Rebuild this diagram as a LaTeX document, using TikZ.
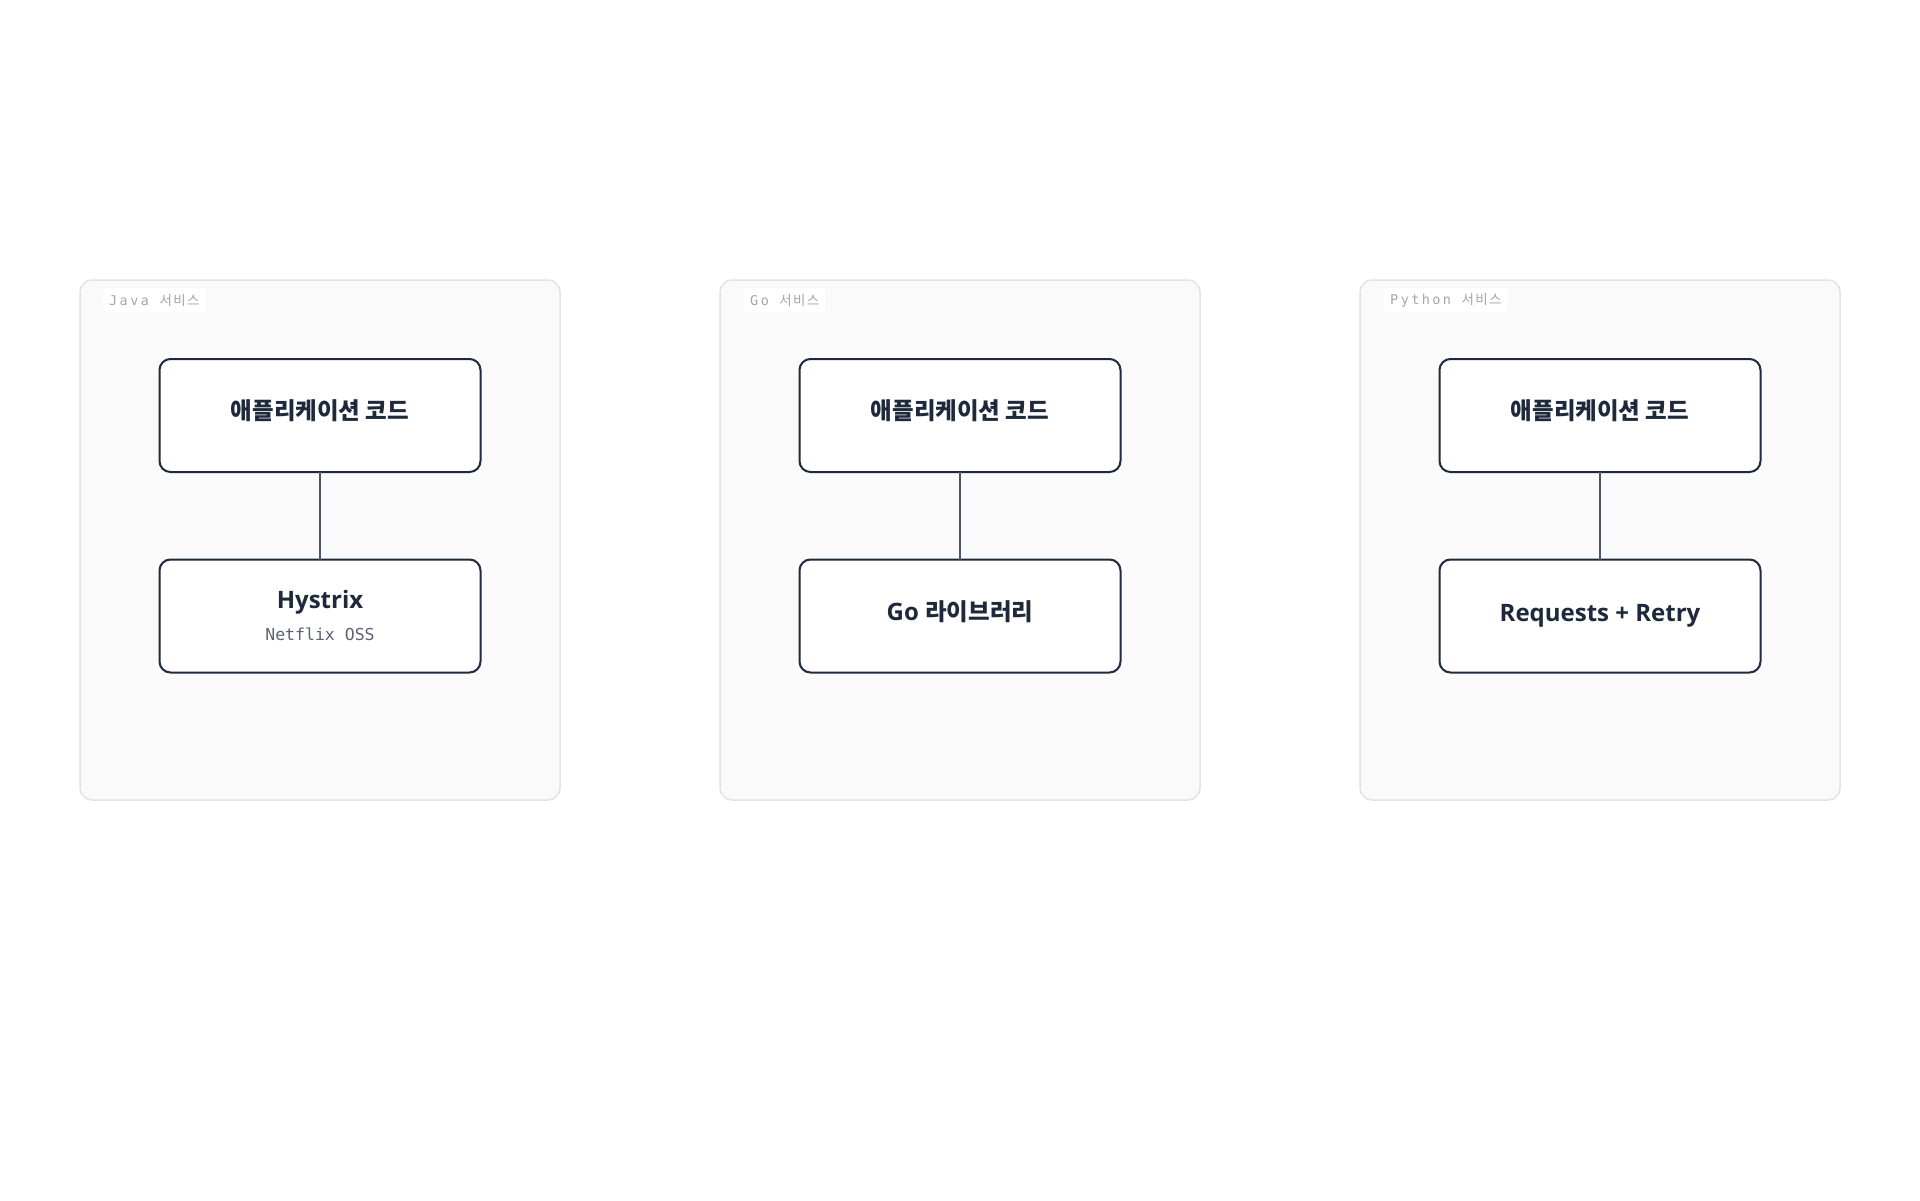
\documentclass[tikz,border=0pt]{standalone}
\usepackage{fontspec}
\setmainfont{Open Sans}
\newfontfamily\kr{Noto Sans CJK KR}
\newfontfamily\mono{DejaVu Sans Mono}
\newfontfamily\lblmono[LetterSpace=18]{DejaVu Sans Mono}
\newfontfamily\lblkr[LetterSpace=10]{Noto Sans CJK KR}
\definecolor{ink}{HTML}{1E293B}
\definecolor{subink}{HTML}{5B6370}
\definecolor{lblink}{HTML}{A3A7AD}
\definecolor{contfill}{HTML}{FAFAFA}
\definecolor{contline}{HTML}{E4E4E7}
\definecolor{wireclr}{HTML}{4B5563}
\tikzset{
  container/.style={draw=contline, line width=1.5pt, fill=contfill, rounded corners=12pt,
    minimum width=480pt, minimum height=520pt, inner sep=0pt, outer sep=0pt},
  lbl/.style={fill=white, rounded corners=3pt, inner xsep=6pt, inner ysep=0pt,
    minimum height=24pt, anchor=west, text=lblink, font=\lblmono\fontsize{13.5}{16}\selectfont},
  stepbox/.style={draw=ink, line width=2pt, fill=white, rounded corners=11pt,
    minimum width=321pt, minimum height=113pt, inner sep=0pt, outer sep=0pt},
  ttl/.style={text=ink, inner sep=0pt, font=\bfseries\fontsize{24}{28}\selectfont},
  kttl/.style={text=ink, inner sep=0pt, font=\kr\bfseries\fontsize{23.5}{28}\selectfont},
  subt/.style={text=subink, inner sep=0pt, font=\mono\fontsize{16.5}{20}\selectfont},
  wire/.style={draw=wireclr, line width=2pt}
}
\begin{document}
\begin{tikzpicture}[x=1pt,y=-1pt]
\useasboundingbox[fill=white] (0,0) rectangle (1920,1200);

% containers
\node[container] (c1) at (320,540) {};
\node[container] (c2) at (960,540) {};
\node[container] (c3) at (1600,540) {};

% container labels
\node[lbl] (l1) at (103,300) {Java {\lblkr 서비스}};
\node[lbl] (l2) at (744,300) {Go {\lblkr 서비스}};
\node[lbl] (l3) at (1384,300) {Python {\lblkr 서비스}};

% top boxes
\node[stepbox] (a1) at (320,415.5) {};
\node[stepbox] (a2) at (960,415.5) {};
\node[stepbox] (a3) at (1600,415.5) {};
\node[kttl, anchor=base] (a1t) at (320,419) {애플리케이션 코드};
\node[kttl, anchor=base] (a2t) at (960,419) {애플리케이션 코드};
\node[kttl, anchor=base] (a3t) at (1600,419) {애플리케이션 코드};

% bottom boxes
\node[stepbox] (b1) at (320,616) {};
\node[stepbox] (b2) at (960,616) {};
\node[stepbox] (b3) at (1600,616) {};
\node[ttl, anchor=base] (b1t) at (320,608) {Hystrix};
\node[subt, anchor=base] (b1s) at (320,640) {Netflix OSS};
\node[ttl, anchor=base] (b2t) at (960,620) {Go {\kr\bfseries\fontsize{23.5}{28}\selectfont 라이브러리}};
\node[ttl, anchor=base] (b3t) at (1600,621) {Requests + Retry};

% connectors
\draw[wire] (a1.south) -- (b1.north);
\draw[wire] (a2.south) -- (b2.north);
\draw[wire] (a3.south) -- (b3.north);
\end{tikzpicture}
\end{document}
